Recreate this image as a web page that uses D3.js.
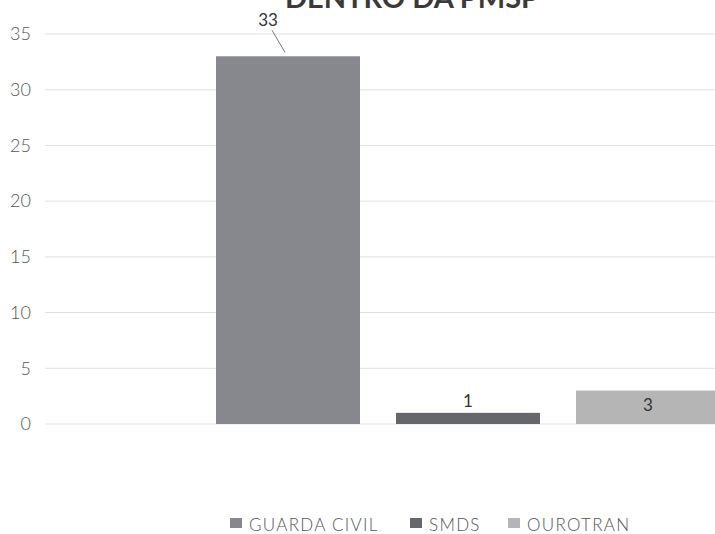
<!DOCTYPE html>
<html><head><meta charset="utf-8">
<script src="https://cdn.jsdelivr.net/npm/d3@7"></script>
<style>body{margin:0;background:#fff}svg{display:block}</style>
</head><body><svg id="c" width="715" height="534"></svg>
<script>
const series = ["GUARDA CIVIL", "SMDS", "OUROTRAN"];
const values = [33, 1, 3];
const colors = ["#87888d", "#65676c", "#b5b5b6"];
const yTicks = [0, 5, 10, 15, 20, 25, 30, 35];
const title = "DENTRO DA PMSP";

const svg = d3.select("#c");
const font = "Lato, 'Open Sans', sans-serif";
const y = d3.scaleLinear().domain([0, 35]).range([424, 34]);
const x = d3.scaleBand().domain(series).range([198, 738]).paddingInner(0.2).paddingOuter(0.1);

// gridlines
svg.append("g").selectAll("line").data(yTicks).join("line")
  .attr("x1", 45).attr("x2", 715)
  .attr("y1", d => y(d)).attr("y2", d => y(d))
  .attr("stroke", "#e0e0e0").attr("stroke-width", 1);

// y axis labels
const ya = d3.axisLeft(y).tickValues(yTicks).tickSize(0).tickPadding(0);
const g = svg.append("g").attr("transform", "translate(31,0)").call(ya);
g.select(".domain").remove();
g.selectAll("text").attr("font-family", font).attr("font-weight", 300).attr("font-size", 18).attr("fill", "#555");

// title (cut off at top, as in the reference)
svg.append("text").attr("x", 412).attr("y", 8).attr("text-anchor", "middle")
  .attr("font-family", font).attr("font-weight", "bold").attr("font-size", 29).attr("fill", "#3a3a3a")
  .text(title);

// bars
svg.append("g").selectAll("rect").data(series).join("rect")
  .attr("x", d => x(d)).attr("width", x.bandwidth())
  .attr("y", (d, i) => y(values[i])).attr("height", (d, i) => y(0) - y(values[i]))
  .attr("fill", (d, i) => colors[i]);

// data labels
const lbl = svg.append("g").attr("font-family", font).attr("font-size", 17).attr("fill", "#333").attr("text-anchor", "middle");
const c0 = x(series[0]) + x.bandwidth() / 2;
lbl.append("text").attr("x", c0 - 20).attr("y", y(values[0]) - 30).text(values[0]);
svg.append("line").attr("x1", c0 - 16).attr("y1", y(values[0]) - 26).attr("x2", c0 - 3).attr("y2", y(values[0]) - 4)
  .attr("stroke", "#777").attr("stroke-width", 1);
lbl.append("text").attr("x", x(series[1]) + x.bandwidth() / 2).attr("y", y(values[1]) - 6).text(values[1]);
lbl.append("text").attr("x", x(series[2]) + 72).attr("y", y(values[2]) + 20).text(values[2]);

// legend
const legX = [230, 410, 508];
const leg = svg.append("g");
series.forEach((s, i) => {
  leg.append("rect").attr("x", legX[i]).attr("y", 518).attr("width", 12).attr("height", 10).attr("fill", colors[i]);
  leg.append("text").attr("x", legX[i] + 19).attr("y", 531).attr("font-family", font).attr("font-weight", 300).attr("font-size", 17)
    .attr("letter-spacing", 1.3).attr("fill", "#555").text(s);
});
</script></body></html>
